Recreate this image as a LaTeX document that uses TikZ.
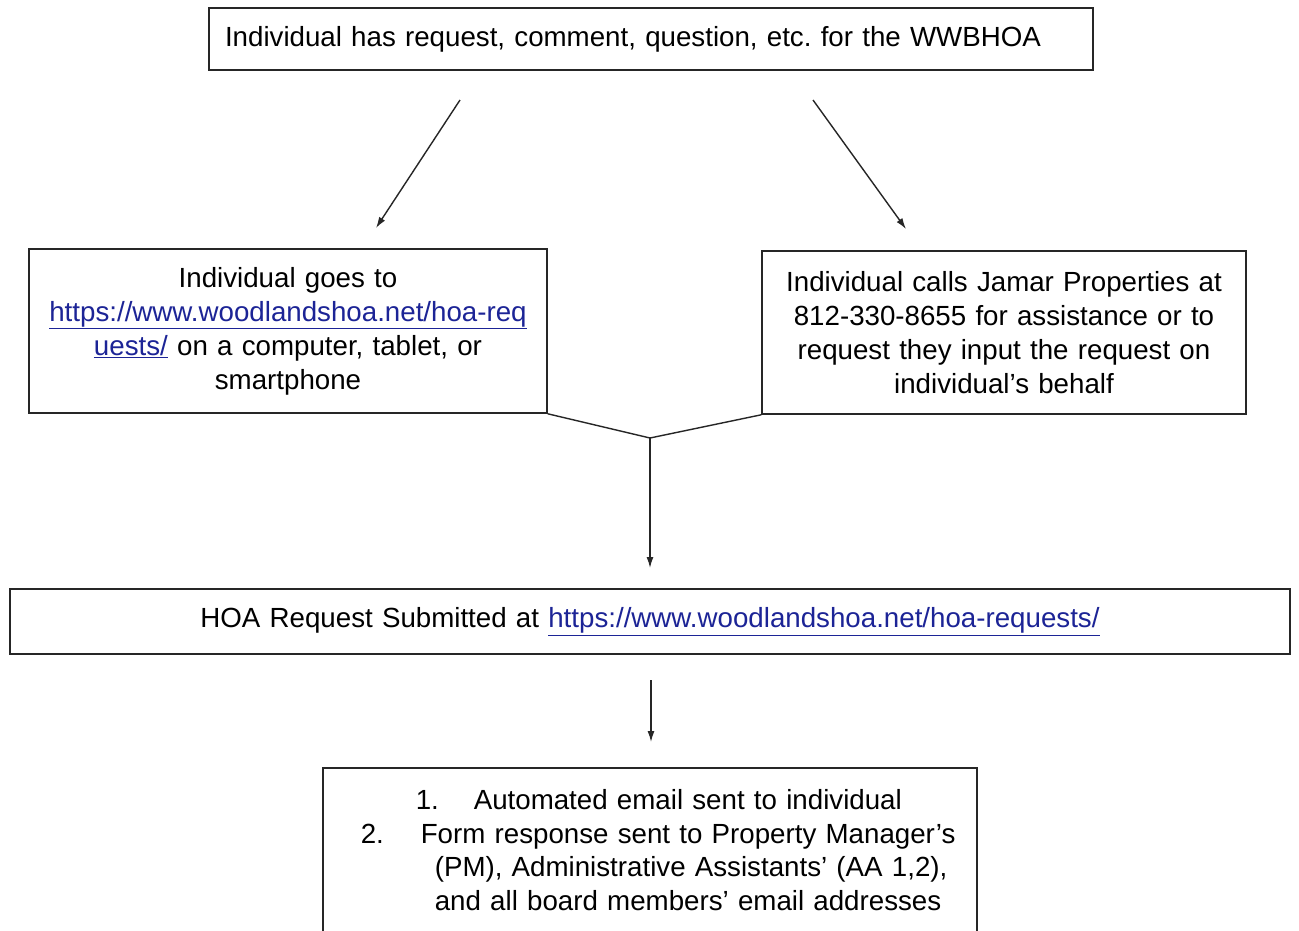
\documentclass[tikz,border=0pt]{standalone}
\usepackage{fontspec}
\setmainfont{Liberation Sans}
\usepackage{tikz}
\usetikzlibrary{positioning,arrows.meta}
\definecolor{linkblue}{RGB}{28,36,150}
\newcommand{\lnk}[1]{\textcolor{linkblue}{\underline{#1}}}
\frenchspacing

\begin{document}
\begin{tikzpicture}[x=1pt,y=-1pt,
    main/.style={draw=black!85, line width=1.6pt, rectangle, font=\fontsize{27.7}{34}\selectfont},
    arr/.style={-{Latex[length=11pt,width=7pt]}, line width=1.4pt, black!85}]
    \clip (0,0) rectangle (1299,930);
    \fill[white] (0,0) rectangle (1299,930);

    \node[main, minimum width=884pt, minimum height=62pt, text width=852pt, inner xsep=16pt, align=left] (0) at (651,39)
        {Individual has request, comment, question, etc. for the WWBHOA};

    \node[main, minimum width=518pt, minimum height=164pt, text width=500pt, align=center] (1) at (288,331)
        {Individual goes to\\ \lnk{https://www.woodlandshoa.net/hoa-req}\\ \lnk{uests/} on a computer, tablet, or\\ smartphone};
    \node[main, minimum width=484pt, minimum height=163pt, text width=466pt, align=center] (2) at (1004,332.5)
        {Individual calls Jamar Properties at\\ 812-330-8655 for assistance or to\\ request they input the request on\\ individual's behalf};

    \node[main, minimum width=1280pt, minimum height=65pt, text width=1262pt, align=center] (3) at (650,621.5)
        {HOA Request Submitted at \lnk{https://www.woodlandshoa.net/hoa-requests/}};

    \node[main, anchor=north west, minimum width=654pt, text width=640pt, inner xsep=7pt, inner ysep=22pt, align=left,
        font=\fontsize{27.7}{33.4}\selectfont] (4) at (322,767)
        {\hspace*{86pt}\makebox[58pt][l]{1.}Automated email sent to individual\\
         \hspace*{31pt}\makebox[60pt][l]{2.}Form response sent to Property Manager's\\
         \hspace*{105pt}(PM), Administrative Assistants' (AA 1,2),\\
         \hspace*{105pt}and all board members' email addresses};

    \coordinate (a1) at (460,100);
    \coordinate (b1) at (376,228);
    \coordinate (a2) at (813,100);
    \coordinate (b2) at (906,229);
    \coordinate (j) at (650,438);
    \coordinate (j2) at (650,568);
    \coordinate (c1) at (651,680);
    \coordinate (c2) at (651,742);

    \draw[arr] (a1) -- (b1);
    \draw[arr] (a2) -- (b2);
    \draw[line width=1.4pt, black!85] (1.south east) -- (j);
    \draw[line width=1.4pt, black!85] (2.south west) -- (j);
    \draw[arr] (j) -- (j2);
    \draw[arr] (c1) -- (c2);
\end{tikzpicture}
\end{document}
